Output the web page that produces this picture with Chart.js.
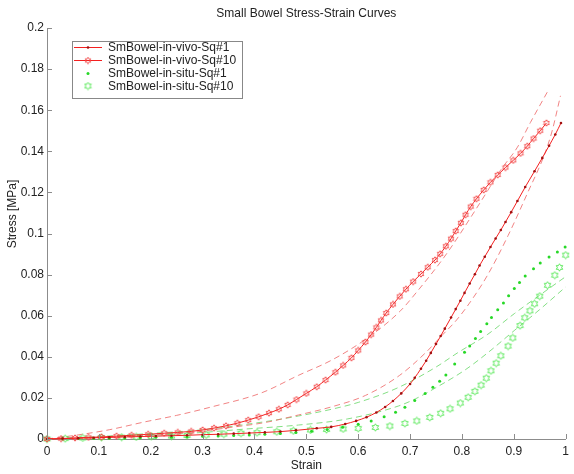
<!DOCTYPE html>
<html>
<head>
<meta charset="utf-8">
<script src="https://cdn.jsdelivr.net/npm/chart.js@4/dist/chart.umd.min.js"></script>
<style>
html,body{margin:0;padding:0;background:#fff;}
#wrap{width:574px;height:474px;position:relative;}
</style>
</head>
<body>
<div id="wrap"><canvas id="c" width="574" height="474"></canvas></div>
<script>
// ---------- DATA ----------
const titleText = 'Small Bowel Stress-Strain Curves';
const xAxisTitle = 'Strain';
const yAxisTitle = 'Stress [MPa]';
const xTicks = [0,0.1,0.2,0.3,0.4,0.5,0.6,0.7,0.8,0.9,1];
const xTickLabels = ['0','0.1','0.2','0.3','0.4','0.5','0.6','0.7','0.8','0.9','1'];
const yTicks = [0,0.02,0.04,0.06,0.08,0.1,0.12,0.14,0.16,0.18,0.2];
const yTickLabels = ['0','0.02','0.04','0.06','0.08','0.1','0.12','0.14','0.16','0.18','0.2'];
const seriesNames = ['SmBowel-in-vivo-Sq#1','SmBowel-in-vivo-Sq#10','SmBowel-in-situ-Sq#1','SmBowel-in-situ-Sq#10'];

const vivo1Strain = [0,0.03,0.06,0.09,0.12,0.15,0.18,0.21,0.24,0.27,0.30,0.33,0.36,0.39,0.42,0.45,0.48,0.52,0.548,0.575,0.596,0.616,0.635,0.652,0.667,0.683,0.70,0.709,0.721,0.731,0.74,0.75,0.759,0.767,0.779,0.788,0.797,0.805,0.815,0.825,0.834,0.844,0.855,0.865,0.875,0.884,0.895,0.907,0.922,0.94,0.955,0.968,0.98,0.991];
const vivo1Stress = [0,0.0002,0.0004,0.0006,0.0008,0.0010,0.0012,0.0014,0.0016,0.0018,0.0021,0.0023,0.0026,0.0029,0.0032,0.0036,0.0042,0.0052,0.0059,0.0073,0.0088,0.0106,0.0129,0.0156,0.0185,0.0222,0.0268,0.0298,0.0342,0.0381,0.0419,0.0462,0.0501,0.0537,0.0591,0.0632,0.0673,0.0711,0.0757,0.0802,0.0844,0.0887,0.0934,0.0976,0.1017,0.1056,0.1104,0.1158,0.1226,0.1303,0.1368,0.1427,0.1482,0.1538];

const vivo10Strain = [0,0.027,0.054,0.08,0.105,0.134,0.163,0.195,0.226,0.252,0.278,0.30,0.322,0.345,0.367,0.388,0.408,0.428,0.447,0.464,0.481,0.50,0.52,0.537,0.556,0.571,0.587,0.60,0.614,0.625,0.635,0.644,0.654,0.667,0.68,0.692,0.706,0.721,0.734,0.748,0.758,0.769,0.779,0.788,0.798,0.807,0.817,0.828,0.842,0.855,0.869,0.884,0.899,0.913,0.926,0.938,0.951,0.963];
const vivo10Stress = [0,0.0002,0.0005,0.0008,0.001,0.0014,0.0018,0.0023,0.0028,0.0032,0.0037,0.0044,0.0053,0.0064,0.0077,0.0092,0.0108,0.0126,0.0145,0.0166,0.0192,0.0222,0.0254,0.0287,0.0325,0.0358,0.0395,0.0431,0.0472,0.0508,0.0543,0.0577,0.0613,0.0655,0.0694,0.0729,0.0766,0.0803,0.0836,0.0871,0.0901,0.0938,0.0975,0.1012,0.1052,0.1091,0.1131,0.1169,0.1212,0.1249,0.1285,0.1321,0.1356,0.139,0.1425,0.1462,0.150,0.1538];

const situ1Strain = [0,0.03,0.06,0.09,0.12,0.15,0.18,0.21,0.24,0.27,0.30,0.33,0.36,0.39,0.42,0.45,0.48,0.51,0.54,0.57,0.60,0.625,0.65,0.672,0.69,0.709,0.729,0.744,0.757,0.769,0.786,0.805,0.815,0.826,0.836,0.848,0.857,0.869,0.880,0.890,0.901,0.911,0.922,0.938,0.951,0.968,0.984,0.999];
const situ1Stress = [0,0.0001,0.0002,0.0003,0.0004,0.0005,0.0006,0.0008,0.0009,0.0011,0.0013,0.0015,0.0017,0.002,0.0023,0.0027,0.0032,0.0038,0.0046,0.0057,0.0072,0.0088,0.0108,0.013,0.0155,0.0187,0.0222,0.0252,0.0281,0.0312,0.0365,0.0422,0.0452,0.0489,0.0523,0.0561,0.0591,0.0629,0.0662,0.0697,0.0732,0.0762,0.0793,0.0828,0.0856,0.0886,0.091,0.0934];

const situ10Strain = [0,0.035,0.069,0.105,0.144,0.172,0.201,0.24,0.27,0.307,0.341,0.374,0.405,0.443,0.475,0.508,0.539,0.571,0.60,0.633,0.661,0.69,0.713,0.738,0.759,0.777,0.797,0.812,0.825,0.837,0.847,0.856,0.866,0.875,0.889,0.898,0.912,0.921,0.931,0.94,0.95,0.965,0.979,0.988,1.0];
const situ10Stress = [0,0.0002,0.0005,0.0007,0.0009,0.001,0.0012,0.0014,0.0017,0.002,0.0024,0.0028,0.0031,0.0035,0.004,0.0044,0.0046,0.0049,0.0052,0.0056,0.0063,0.0076,0.0088,0.0105,0.0125,0.0147,0.0175,0.0203,0.0232,0.0262,0.0296,0.0332,0.0369,0.0405,0.0452,0.0492,0.0552,0.059,0.0624,0.0658,0.0695,0.0748,0.0797,0.0835,0.0895];

const fitVivo10Strain = [0,0.06,0.12,0.188,0.25,0.317,0.413,0.485,0.549,0.614,0.68,0.716,0.77,0.825,0.85,0.875,0.907,0.932,0.965];
const fitVivo10Stress = [0,0.002,0.0045,0.0083,0.0115,0.0156,0.0224,0.031,0.0384,0.0485,0.062,0.0725,0.09,0.111,0.121,0.131,0.142,0.154,0.169];

const fitVivo1Strain = [0,0.1,0.2,0.284,0.35,0.42,0.485,0.548,0.614,0.68,0.73,0.76,0.79,0.817,0.85,0.889,0.927,0.96,0.974,0.99];
const fitVivo1Stress = [0,0.0008,0.0021,0.0034,0.0055,0.008,0.0117,0.0156,0.0212,0.031,0.042,0.05,0.058,0.067,0.08,0.099,0.12,0.139,0.150,0.167];

const fitSitu1Strain = [0,0.1,0.2,0.3,0.422,0.485,0.549,0.6,0.677,0.75,0.792,0.85,0.901,0.95,1.0];
const fitSitu1Stress = [0,0.0012,0.0027,0.0045,0.0085,0.0112,0.0145,0.0178,0.025,0.035,0.042,0.051,0.061,0.07,0.079];

const fitSitu10Strain = [0,0.1,0.2,0.3,0.38,0.485,0.58,0.677,0.71,0.75,0.806,0.85,0.902,0.95,1.0];
const fitSitu10Stress = [0,0.0008,0.0018,0.0032,0.0048,0.0068,0.0098,0.016,0.0195,0.025,0.0336,0.042,0.053,0.063,0.074];

// ---------- HELPERS ----------
function pts(xs, ys){ return xs.map((x,i)=>({x:x, y:ys[i]})); }
function makeHexagram(color, size){
  const c = document.createElement('canvas');
  c.width = size; c.height = size;
  const g = c.getContext('2d');
  const R = size/2 - 0.8, r = R/Math.sqrt(3), cx = size/2, cy = size/2;
  g.beginPath();
  for (let i=0;i<12;i++){
    const a = -Math.PI/2 + i*Math.PI/6;
    const rad = (i%2) ? r : R;
    g.lineTo(cx + rad*Math.cos(a), cy + rad*Math.sin(a));
  }
  g.closePath();
  g.strokeStyle = color; g.lineWidth = 1; g.stroke();
  return c;
}
const redStar = makeHexagram('#f25050', 8);
const greenStar = makeHexagram('#5ae85a', 9);

const FONT = '"Liberation Sans", Arial, sans-serif';
const TEXT = '#222';

// ---------- PLUGINS ----------
const decor = {
  id: 'decor',
  afterDatasetsDraw(chart){
    const ctx = chart.ctx, a = chart.chartArea;
    const xs = chart.scales.x, ys = chart.scales.y;
    ctx.save();
    // inward tick marks
    ctx.strokeStyle = '#8c8c8c'; ctx.lineWidth = 1;
    ctx.beginPath();
    xTicks.forEach(v=>{ const px = Math.round(xs.getPixelForValue(v))+0.5; ctx.moveTo(px, a.bottom); ctx.lineTo(px, a.bottom-5); });
    yTicks.forEach(v=>{ const py = Math.round(ys.getPixelForValue(v))+0.5; ctx.moveTo(a.left, py); ctx.lineTo(a.left+5, py); });
    ctx.stroke();
    // titles
    ctx.fillStyle = TEXT; ctx.font = '12px ' + FONT;
    ctx.textAlign = 'center'; ctx.textBaseline = 'middle';
    const cx = (a.left + a.right)/2;
    ctx.fillText(titleText, cx, 14);
    ctx.fillText(xAxisTitle, cx, 466);
    ctx.save();
    ctx.translate(13, 214); ctx.rotate(-Math.PI/2);
    ctx.fillText(yAxisTitle, 0, 0);
    ctx.restore();
    // legend
    const bx = 72, by = 41, bw = 170, bh = 57;
    ctx.fillStyle = '#fff'; ctx.fillRect(bx, by, bw, bh);
    ctx.strokeStyle = '#888'; ctx.strokeRect(bx+0.5, by+0.5, bw, bh);
    const rows = [47, 60, 73, 85.5];
    for (let i=0;i<4;i++){
      const ds = chart.data.datasets[i];
      const y = rows[i];
      if (ds.showLine !== false){
        ctx.strokeStyle = ds.borderColor; ctx.lineWidth = 1;
        ctx.beginPath(); ctx.moveTo(74, y+0.5); ctx.lineTo(102, y+0.5); ctx.stroke();
      }
      if (ds.pointStyle && typeof ds.pointStyle === 'object'){
        const img = ds.pointStyle;
        ctx.drawImage(img, 88 - img.width/2, y - img.height/2 + 0.5);
      } else {
        ctx.fillStyle = ds.pointBackgroundColor;
        ctx.beginPath(); ctx.arc(88, y+0.5, ds.pointRadius, 0, Math.PI*2); ctx.fill();
      }
      ctx.fillStyle = TEXT; ctx.textAlign = 'left'; ctx.textBaseline = 'middle';
      ctx.fillText(ds.label, 108, y+1);
    }
    ctx.restore();
  }
};

// ---------- CHART ----------
const fitStyle = (color)=>({ borderColor: color, borderWidth: 1, borderDash: [6,4], pointRadius: 0, showLine: true, fill: false, cubicInterpolationMode: 'monotone', clip: false });

new Chart(document.getElementById('c'), {
  type: 'scatter',
  data: {
    datasets: [
      { label: seriesNames[0], data: pts(vivo1Strain, vivo1Stress), showLine: true, borderColor: '#f42020', borderWidth: 1,
        pointRadius: 1.3, pointBackgroundColor: '#a11010', pointBorderWidth: 0, pointStyle: 'circle', cubicInterpolationMode: 'monotone', clip: false },
      { label: seriesNames[1], data: pts(vivo10Strain, vivo10Stress), showLine: true, borderColor: '#f42020', borderWidth: 1,
        pointStyle: redStar, pointRadius: 4, cubicInterpolationMode: 'monotone', clip: false },
      { label: seriesNames[2], data: pts(situ1Strain, situ1Stress), showLine: false,
        pointRadius: 1.5, pointBackgroundColor: '#27d827', pointBorderWidth: 0, pointStyle: 'circle', clip: false },
      { label: seriesNames[3], data: pts(situ10Strain, situ10Stress), showLine: false,
        pointStyle: greenStar, pointRadius: 4.5, clip: false },
      Object.assign({ label: 'fit-vivo-Sq#10', data: pts(fitVivo10Strain, fitVivo10Stress) }, fitStyle('rgba(238,110,110,0.85)')),
      Object.assign({ label: 'fit-vivo-Sq#1', data: pts(fitVivo1Strain, fitVivo1Stress) }, fitStyle('rgba(238,110,110,0.85)')),
      Object.assign({ label: 'fit-situ-Sq#1', data: pts(fitSitu1Strain, fitSitu1Stress) }, fitStyle('rgba(120,220,120,0.9)')),
      Object.assign({ label: 'fit-situ-Sq#10', data: pts(fitSitu10Strain, fitSitu10Stress) }, fitStyle('rgba(120,220,120,0.9)'))
    ]
  },
  options: {
    responsive: false,
    animation: false,
    devicePixelRatio: 1,
    layout: { padding: { top: 28, right: 5, left: 0, bottom: 0 } },
    plugins: { legend: { display: false }, title: { display: false }, tooltip: { enabled: false } },
    scales: {
      x: {
        type: 'linear', min: 0, max: 1,
        afterFit: s => { s.height = 35; },
        afterBuildTicks: s => { s.ticks = xTicks.map(v => ({ value: v })); },
        grid: { display: true, drawOnChartArea: false, drawTicks: false },
        border: { display: true, color: '#8c8c8c', width: 1 },
        ticks: { autoSkip: false, maxRotation: 0, padding: 5, color: TEXT, font: { size: 12, family: FONT },
                 callback: (v, i) => xTickLabels[i] }
      },
      y: {
        type: 'linear', min: 0, max: 0.2,
        afterFit: s => { s.width = 47; },
        afterBuildTicks: s => { s.ticks = yTicks.map(v => ({ value: v })); },
        grid: { display: true, drawOnChartArea: false, drawTicks: false },
        border: { display: true, color: '#8c8c8c', width: 1 },
        ticks: { autoSkip: false, padding: 3, color: TEXT, font: { size: 12, family: FONT },
                 callback: (v, i) => yTickLabels[i] }
      }
    }
  },
  plugins: [decor]
});
</script>
</body>
</html>
